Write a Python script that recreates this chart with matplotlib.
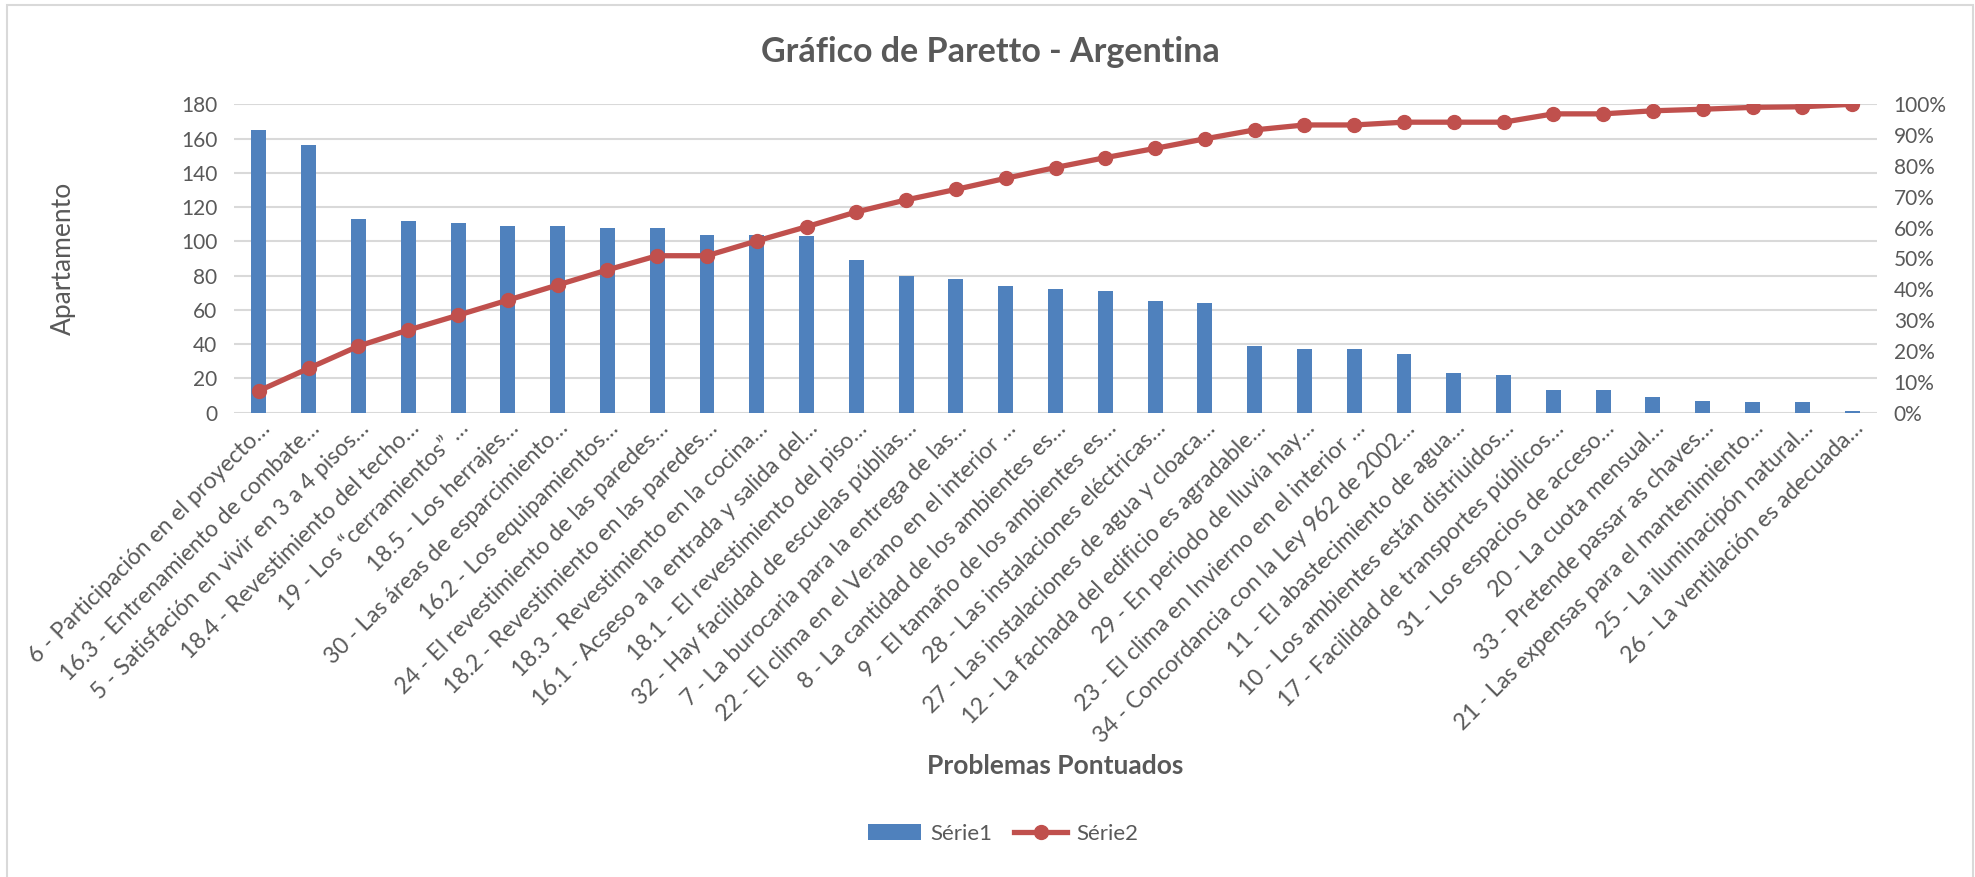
import numpy as np
import matplotlib
matplotlib.use("Agg")
import matplotlib.pyplot as plt
from matplotlib.patches import Rectangle
from matplotlib.ticker import PercentFormatter

plt.rcParams['font.family'] = ['Lato', 'DejaVu Sans']

problemas = [
    "6 - Participación en el proyecto…",
    "16.3 - Entrenamiento de combate…",
    "5 - Satisfación en vivir en 3 a 4 pisos…",
    "18.4 - Revestimiento del techo…",
    "19 - Los “cerramientos” …",
    "18.5 - Los herrajes…",
    "30 - Las áreas de esparcimiento…",
    "16.2 - Los equipamientos…",
    "24 - El revestimiento de las paredes…",
    "18.2 - Revestimiento en las paredes…",
    "18.3 - Revestimiento en la cocina…",
    "16.1 - Acseso a la entrada y salida del…",
    "18.1 - El revestimiento del piso…",
    "32 - Hay facilidad de escuelas públias…",
    "7 - La burocaria para la entrega de las…",
    "22 - El clima en el Verano en el interior …",
    "8 - La cantidad de los ambientes es…",
    "9 - El tamaño de los ambientes es…",
    "28 - Las instalaciones eléctricas…",
    "27 - Las instalaciones de agua y cloaca…",
    "12 - La fachada del edificio es agradable…",
    "29 - En periodo de lluvia hay…",
    "23 - El clima en Invierno en el interior …",
    "34 - Concordancia con la Ley 962 de 2002…",
    "11 - El abastecimiento de agua…",
    "10 - Los ambientes están distriuidos…",
    "17 - Facilidad de transportes públicos…",
    "31 - Los espacios de acceso…",
    "20 - La cuota mensual…",
    "33 - Pretende passar as chaves…",
    "21 - Las expensas para el mantenimiento…",
    "25 - La iluminacipón natural…",
    "26 - La ventilación es adecuada…",
]

serie1 = [165, 156, 113, 112, 111, 109, 109, 108, 108, 104, 104, 103, 89, 80, 78,
          74, 72, 71, 65, 64, 39, 37, 37, 34, 23, 22, 13, 13, 9, 7, 6, 6, 1]

# cumulative share (%)
serie2 = [7.1, 14.4, 21.6, 26.8, 31.6, 36.5, 41.4, 46.3, 50.9, 50.9, 55.7, 60.3,
          65.1, 69.0, 72.4, 76.0, 79.5, 82.7, 85.7, 88.8, 91.7, 93.3, 93.3, 94.2,
          94.2, 94.2, 96.9, 96.9, 97.9, 98.4, 99.0, 99.2, 100.0]

azul = '#4F81BD'
rojo = '#C0504D'
gris = '#595959'
W, H = 1975, 877

fig = plt.figure(figsize=(W / 100, H / 100), dpi=100)
fig.patches.append(Rectangle((7 / W, -0.01), (1973 - 7) / W, 1.01 - 5 / H,
                             transform=fig.transFigure, fill=False,
                             edgecolor='#D9D9D9', linewidth=1.5))

ax = fig.add_axes([234 / W, 1 - 412.7 / H, (1877 - 234) / W, (412.7 - 104.3) / H])
x = np.arange(len(problemas))
ax.bar(x, serie1, width=0.3, color=azul, zorder=2, label='Série1')
ax.set_xlim(-0.5, len(problemas) - 0.5)
ax.set_ylim(0, 180)
ax.set_yticks(range(0, 181, 20))
ax.grid(axis='y', color='#D9D9D9', linewidth=1.5, zorder=0)
for s in ax.spines.values():
    s.set_visible(False)
ax.tick_params(axis='both', length=0, labelsize=15, labelcolor=gris)
ax.tick_params(axis='y', pad=12)
ax.set_xticks(x)
ax.set_xticklabels(problemas, rotation=45, ha='right', rotation_mode='anchor',
                   fontsize=16.5)
ax.set_ylabel('Apartamento', fontsize=19, color=gris, va='center')
ax.yaxis.set_label_coords(-0.104, 0.5)
ax.set_xlabel('Problemas Pontuados', fontsize=19, color=gris, fontweight='bold',
              va='center')
ax.xaxis.set_label_coords(0.5, -1.145)

ax2 = ax.twinx()
ax2.plot(x, serie2, color=rojo, linewidth=3.8, marker='o', markersize=10, zorder=3,
         label='Série2')
ax2.set_ylim(0, 100)
ax2.set_yticks(range(0, 101, 10))
ax2.yaxis.set_major_formatter(PercentFormatter(decimals=0))
for s in ax2.spines.values():
    s.set_visible(False)
ax2.tick_params(axis='y', length=0, labelsize=15, labelcolor=gris, pad=12)

fig.text(990 / W, 1 - 52 / H, 'Gráfico de Paretto - Argentina', ha='center', va='center',
         fontsize=24.5, fontweight='bold', color=gris)

h1, l1 = ax.get_legend_handles_labels()
h2, l2 = ax2.get_legend_handles_labels()
leg = fig.legend(h1 + h2, l1 + l2, loc='center', bbox_to_anchor=(1003 / W, 1 - 834 / H),
                 ncol=2, frameon=False, fontsize=16, handlelength=2.4,
                 columnspacing=1.0, handletextpad=0.4)
for t in leg.get_texts():
    t.set_color(gris)

fig.savefig('out.png', dpi=100)
